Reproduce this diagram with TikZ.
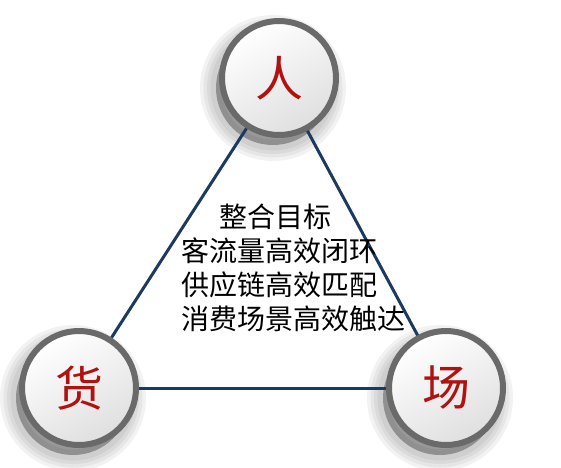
\documentclass[tikz,border=0pt]{standalone}
\usepackage{fontspec}
\newfontfamily\cjk{Noto Sans CJK SC}
\usetikzlibrary{positioning}
\definecolor{edgeblue}{HTML}{1B3A5E}
\definecolor{labelred}{HTML}{B01212}
\definecolor{ringgray}{HTML}{6A6A6A}

\begin{document}
\begin{tikzpicture}[x=1pt,y=-1pt,node distance=2cm,on grid,
	shade layer/.style={preaction={draw=black,draw opacity=.05,line width=#1,
		transform canvas={shift={(-6pt,-10pt)}}}},
	corner/.style={circle,minimum size=114pt,inner sep=0pt,draw=ringgray,line width=6pt,
		shade layer=32pt,shade layer=25pt,shade layer=18pt,shade layer=11pt,
		preaction={fill=black,fill opacity=.3,transform canvas={shift={(-6pt,-10pt)}}},
		top color=white,bottom color=gray!25,shading angle=30,
		font=\cjk\fontsize{48}{48}\selectfont,text=labelred},
	link/.style={draw=edgeblue,line width=3pt}]
	\useasboundingbox (0,0) rectangle (561,467);
	\node[corner] (ren) at (279,78) {人};
	\node[corner] (huo) [below left=310pt and 200pt of ren] {货};
	\node[corner] (chang) [right=367pt of huo] {场};
	\path[link]
	(ren) edge (huo)
	edge (chang)
	(huo) edge (chang);
	%\node (goal) at (275,268) {};
	\node[font=\cjk\fontsize{28}{34}\selectfont,align=left,anchor=west] (goal) at (178,268)
	{\hspace{1.35em}整合目标\\客流量高效闭环\\供应链高效匹配\\消费场景高效触达};
\end{tikzpicture}
\end{document}
